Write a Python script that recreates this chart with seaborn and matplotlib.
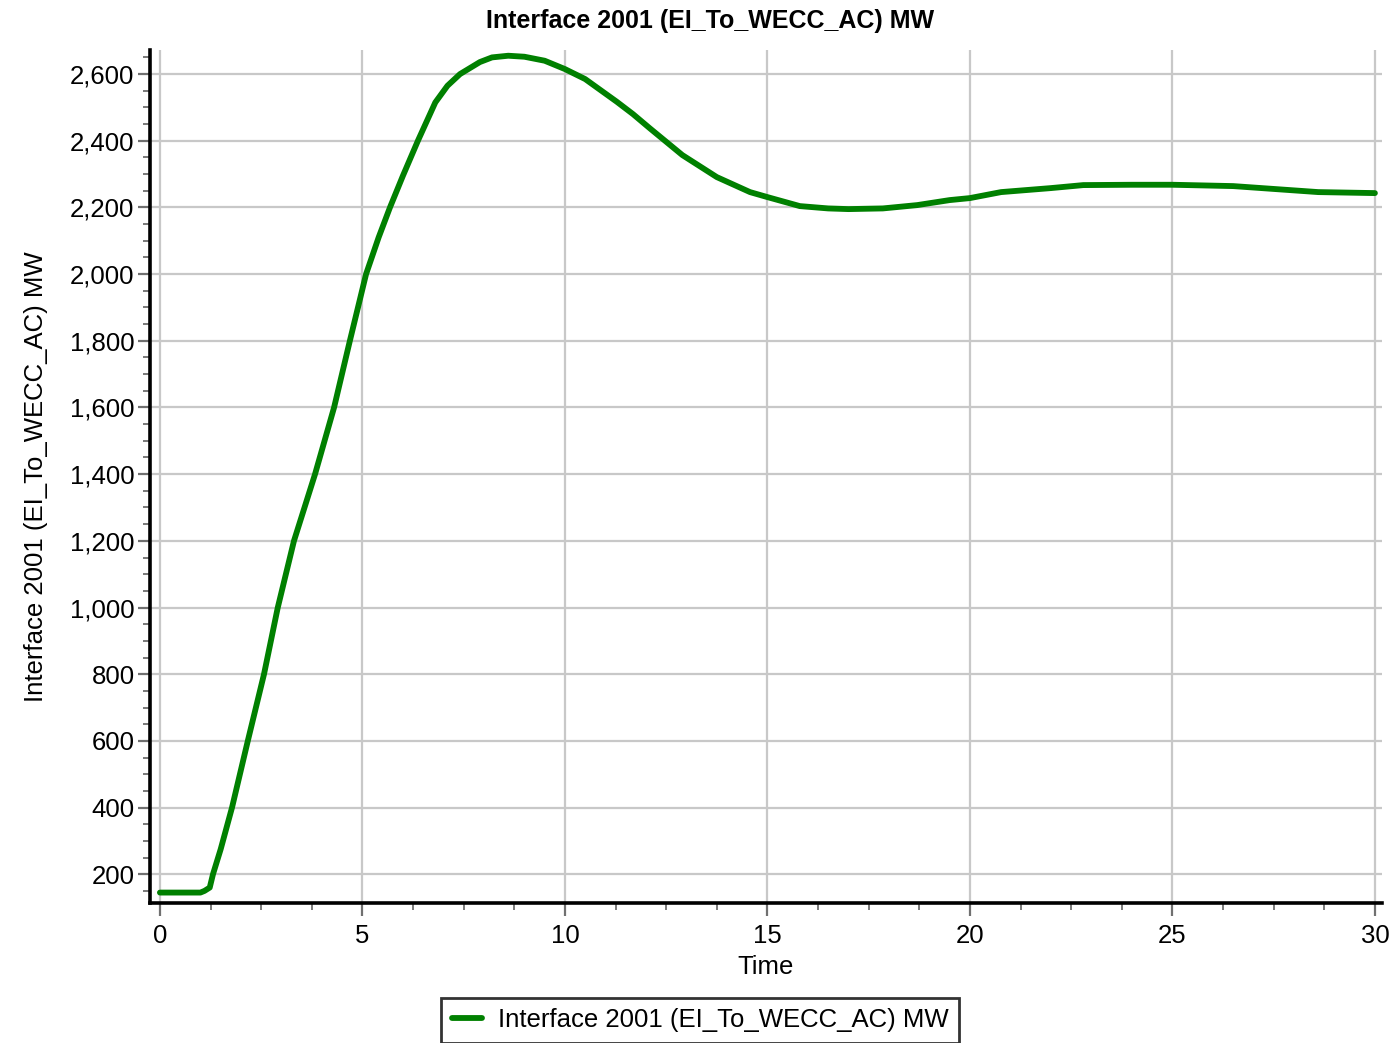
import pandas as pd
import numpy as np
import matplotlib
matplotlib.use('Agg')
import matplotlib.pyplot as plt
from matplotlib.ticker import MultipleLocator, FuncFormatter
import seaborn as sns

# values
time = [0, 0.5, 1.0, 1.1, 1.23, 1.31, 1.5, 1.78, 2.17, 2.57, 2.91, 3.31, 3.83,
        4.30, 4.69, 5.09, 5.4, 5.68, 6.0, 6.37, 6.8, 7.1, 7.41, 7.9, 8.2, 8.6, 9.0, 9.5,
        10, 10.5, 11.28, 11.68, 12.1, 12.9, 13.75, 14.57, 15, 15.8, 16.5, 17.0, 17.85,
        18.7, 19.5, 20, 20.77, 22, 22.8, 24, 25, 26.5, 27.2, 28.6, 30]
mw = [145, 145, 145, 150, 160, 200, 275, 400, 600, 800, 1000, 1200, 1400,
      1600, 1800, 2000, 2110, 2200, 2295, 2400, 2515, 2565, 2600, 2636, 2650, 2655, 2652, 2640,
      2615, 2585, 2517, 2480, 2437, 2357, 2291, 2246, 2231, 2204, 2197, 2195, 2197,
      2207, 2222, 2228, 2246, 2258, 2267, 2268, 2268, 2264, 2258, 2246, 2243]
series_name = 'Interface 2001 (EI_To_WECC_AC) MW'

df = pd.DataFrame({'Time': time, 'MW': mw})

sns.set_style('white')
plt.rcParams['font.family'] = ['Liberation Sans', 'DejaVu Sans']
plt.rcParams['text.color'] = 'black'
plt.rcParams['axes.labelcolor'] = 'black'

fig = plt.figure(figsize=(14, 10.43), dpi=100)
ax = fig.add_axes([0.107, 0.134, 0.88, 0.818])

sns.lineplot(data=df, x='Time', y='MW', color='#008000', linewidth=4.2,
             label=series_name, ax=ax)

ax.set_xlim(-0.25, 30.17)
ax.set_ylim(113, 2672)
ax.xaxis.set_major_locator(MultipleLocator(5))
ax.xaxis.set_minor_locator(MultipleLocator(1.25))
ax.yaxis.set_major_locator(MultipleLocator(200))
ax.yaxis.set_minor_locator(MultipleLocator(50))
ax.yaxis.set_major_formatter(FuncFormatter(lambda v, p: f'{int(v):,}'))

ax.grid(True, which='major', color='#c8c8c8', linewidth=1.6)
ax.set_axisbelow(True)
for s in ['top', 'right']:
    ax.spines[s].set_visible(False)
for s in ['left', 'bottom']:
    ax.spines[s].set_color('black')
    ax.spines[s].set_linewidth(2.6)

ax.tick_params(which='major', direction='out', length=9, width=1.6, color='#707070',
               labelsize=18.5, labelcolor='black', pad=2,
               left=True, bottom=True)
ax.tick_params(axis='x', which='major', pad=6)
ax.tick_params(which='minor', direction='out', length=5, width=1.3, color='#707070',
               left=True, bottom=True)

ax.set_title(series_name, fontsize=18, fontweight='bold', pad=16, x=0.455, color='black')
ax.set_xlabel('Time', fontsize=18.5, labelpad=5)
ax.set_ylabel(series_name, fontsize=18.5, labelpad=16)

ax.legend(loc='upper center', bbox_to_anchor=(0.5, 0.043), bbox_transform=fig.transFigure,
          frameon=True, fancybox=False, edgecolor='black', fontsize=18.5,
          handlelength=1.2, handletextpad=0.6, borderpad=0.4, borderaxespad=0)
ax.get_legend().get_frame().set_linewidth(2.0)

fig.savefig('out.png', dpi=100)
